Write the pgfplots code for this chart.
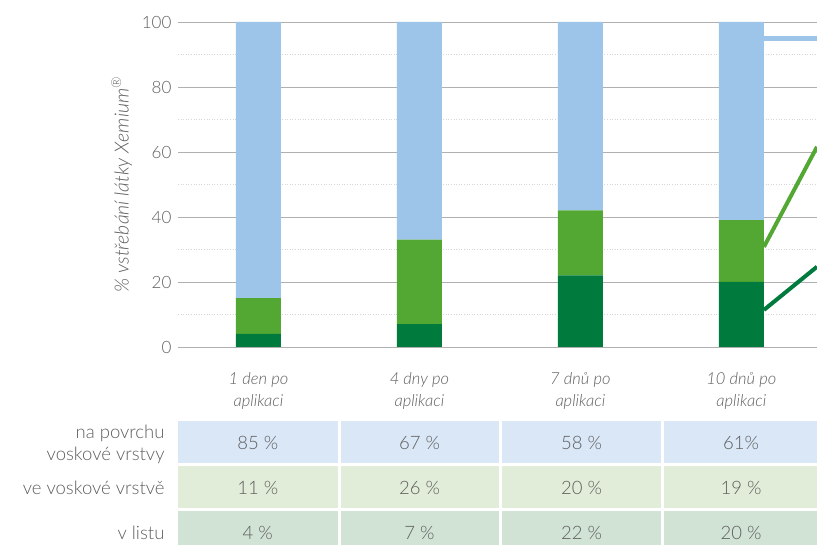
\documentclass[border=0pt]{standalone}
\usepackage{fontspec}
\setmainfont{Lato Light}[ItalicFont={Lato Light Italic}]
\usepackage{pgfplots}
\pgfplotsset{compat=1.18}
\definecolor{cBlue}{HTML}{9DC5EA}
\definecolor{cLight}{HTML}{52A832}
\definecolor{cDark}{HTML}{007A3D}
\definecolor{rowA}{HTML}{DAE7F7}
\definecolor{rowB}{HTML}{E2EDD9}
\definecolor{rowC}{HTML}{D1E3D5}
\definecolor{txt}{HTML}{5E5E5E}
\definecolor{gridc}{HTML}{B0B0B0}
\definecolor{minc}{HTML}{D6D6D6}
\definecolor{zeroc}{HTML}{A6A6A6}
\begin{document}
\begin{tikzpicture}[x=1pt,y=1pt]
\useasboundingbox (0,0) rectangle (817,544);
\begin{axis}[
  at={(178pt,197pt)}, anchor=south west,
  scale only axis, width=639pt, height=325pt,
  xmin=-0.5, xmax=3.47, ymin=0, ymax=100,
  ybar stacked, bar width=45pt,
  axis line style={draw=none},
  major tick length=0pt, minor tick length=0pt,
  ytick={0,20,40,60,80,100},
  minor y tick num=1,
  ymajorgrids, yminorgrids,
  major grid style={draw=gridc, line width=0.9pt},
  minor grid style={draw=minc, line width=0.6pt, dotted},
  extra y ticks={0}, extra y tick labels={},
  extra y tick style={grid style={draw=zeroc, line width=2.2pt}},
  xtick={0,1,2,3},
  xticklabels={1 den po\\aplikaci, 4 dny po\\aplikaci, 7 dnů po\\aplikaci, 10 dnů po\\aplikaci},
  xticklabel style={align=center, font=\itshape\fontsize{16.5}{22}\selectfont, text=txt, yshift=-22pt},
  /pgf/number format/assume math mode=true,
  yticklabel style={font=\fontsize{17}{20}\selectfont, text=txt, xshift=-3pt},
  ylabel={\% vstřebání látky Xemium\textsuperscript{®}},
  ylabel style={at={(axis description cs:-0.088,0.5)}, anchor=center, font=\itshape\fontsize{19.5}{20}\selectfont, text=txt},
]
\addplot[fill=cDark, draw=none] coordinates {(0,4) (1,7) (2,22) (3,20)};
\addplot[fill=cLight, draw=none] coordinates {(0,11) (1,26) (2,20) (3,19)};
\addplot[fill=cBlue, draw=none] coordinates {(0,85) (1,67) (2,58) (3,61)};
\end{axis}
\begin{axis}[
  at={(178pt,197pt)}, anchor=south west,
  scale only axis, width=639pt, height=325pt,
  xmin=-0.5, xmax=3.47, ymin=0, ymax=100,
  hide axis,
]
\addplot[sharp plot, draw=cBlue, line width=5pt] coordinates {(3.14,95) (3.5,95)};
\addplot[sharp plot, draw=cLight, line width=4pt] coordinates {(3.14,30.8) (3.47,61.6)};
\addplot[sharp plot, draw=cDark, line width=4pt] coordinates {(3.14,11.4) (3.47,24.7)};
\end{axis}
\foreach \xa/\xb in {178/337.5, 340.5/499, 502/661, 664/830} {
  \fill[rowA] (\xa,81.5) rectangle (\xb,123);
  \fill[rowB] (\xa,36) rectangle (\xb,78.5);
  \fill[rowC] (\xa,-10) rectangle (\xb,33);
}
\begin{scope}[every node/.style={font=\fontsize{18.5}{22}\selectfont, text=txt}]
\foreach \x/\a/\b/\c in {257.75/85 \%/11 \%/4 \%, 419.5/67 \%/26 \%/7 \%, 581.5/58 \%/20 \%/22 \%, 741/61\%/19 \%/20 \%} {
  \node at (\x,101) {\a};
  \node at (\x,56) {\b};
  \node at (\x,11) {\c};
}
\node[anchor=east, align=right] at (168,100) {na povrchu\\voskové vrstvy};
\node[anchor=east] at (168,56) {ve voskové vrstvě};
\node[anchor=east] at (168,11) {v listu};
\end{scope}
\end{tikzpicture}
\end{document}
